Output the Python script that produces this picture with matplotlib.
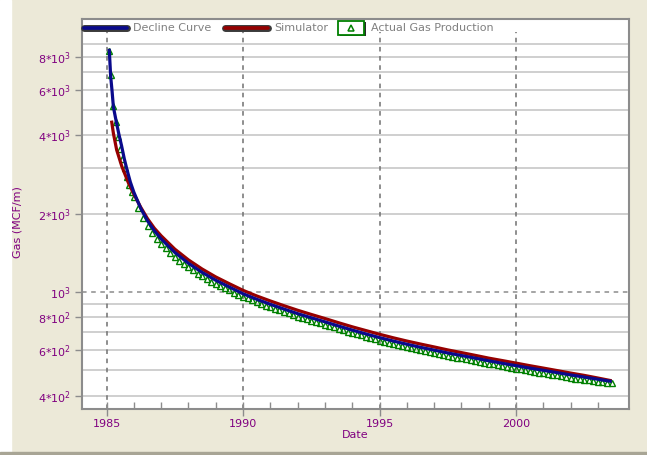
import numpy as np
import matplotlib.pyplot as plt
from matplotlib.patches import Rectangle

# decline curve fit (MCF/month)
decline_dates = [1985.10, 1985.15, 1985.20, 1985.25, 1985.35, 1985.45, 1985.55, 1985.65,
                 1985.75, 1985.87, 1986.00, 1986.25, 1986.50, 1986.75, 1987.00, 1987.50,
                 1988.00, 1988.50, 1989.00, 1989.50, 1990.00, 1990.50, 1991.00, 1991.50,
                 1992.00, 1992.50, 1993.00, 1993.50, 1994.00, 1994.50, 1995.00, 1995.50,
                 1996.00, 1996.50, 1997.00, 1997.50, 1998.00, 1998.50, 1999.00, 1999.50,
                 2000.00, 2000.50, 2001.00, 2001.50, 2002.00, 2002.50, 2003.00, 2003.45]
decline_gas = [8500, 6750, 5950, 5150, 4550, 4050, 3650, 3250,
               2950, 2650, 2420, 2100, 1880, 1720, 1600, 1420,
               1290, 1190, 1110, 1045, 985, 938, 897, 860,
               826, 796, 768, 740, 714, 690, 668, 648,
               630, 613, 598, 583, 570, 557, 544, 532,
               521, 510, 500, 490, 480, 471, 462, 454]

# reservoir simulator run
sim_dates = [1985.19, 1985.25, 1985.37, 1985.56, 1985.80, 1986.00, 1986.25, 1986.50,
             1986.75, 1987.00, 1987.50, 1988.00, 1988.50, 1989.00, 1989.50, 1990.00,
             1990.50, 1991.00, 1991.50, 1992.00, 1992.50, 1993.00, 1993.50, 1994.00,
             1994.50, 1995.00, 1995.50, 1996.00, 1996.50, 1997.00, 1997.50, 1998.00,
             1998.50, 1999.00, 1999.50, 2000.00, 2000.50, 2001.00, 2001.50, 2002.00,
             2002.50, 2003.00, 2003.45]
sim_gas = [4500, 4080, 3520, 3040, 2630, 2380, 2120, 1915,
           1760, 1645, 1462, 1329, 1226, 1143, 1076, 1015,
           966, 924, 886, 851, 820, 791, 762, 735,
           711, 688, 667, 648, 631, 615, 599, 585,
           571, 557, 545, 533, 521, 510, 499, 488,
           478, 467, 457]

# measured production: monthly during 1985, every second month afterwards
actual_gas_1985 = [8450, 6850, 5200, 4500, 3950, 3550, 3250, 3000, 2780, 2590, 2430]
actual_gas_later = [
    2310, 2100, 1930, 1795, 1690, 1605,
    1536, 1474, 1416, 1363, 1320, 1277,
    1245, 1211, 1177, 1148, 1121, 1095,
    1077, 1055, 1034, 1014, 994, 975,
    960, 945, 929, 915, 901, 887,
    875, 862, 850, 839, 827, 816,
    805, 796, 786, 776, 767, 758,
    749, 740, 731, 722, 713, 704,
    696, 688, 681, 673, 666, 658,
    651, 645, 639, 632, 626, 620,
    614, 608, 604, 598, 593, 588,
    583, 578, 573, 568, 565, 560,
    556, 552, 547, 543, 539, 534,
    530, 527, 523, 519, 515, 512,
    508, 504, 501, 497, 494, 490,
    488, 485, 481, 478, 475, 471,
    468, 465, 462, 459, 457, 454,
    451, 449, 447, 445,
]
actual_dates = np.concatenate([1985 + np.arange(1, 12) / 12,
                               1986 + np.arange(len(actual_gas_later)) / 6])
actual_gas = actual_gas_1985 + actual_gas_later

year_ticks = [1985, 1990, 1995, 2000]
gas_ticks = [400, 600, 800, 1000, 2000, 4000, 6000, 8000]
gas_labels = ['4*10$^2$', '6*10$^2$', '8*10$^2$', '10$^3$',
              '2*10$^3$', '4*10$^3$', '6*10$^3$', '8*10$^3$']
grid_levels = [400, 500, 600, 700, 800, 900, 2000, 3000, 4000, 5000, 6000, 7000, 8000, 9000]

PURPLE = '#800080'
NAVY = '#0a0a8c'
DARKRED = '#960000'
GREEN = '#008000'
GREY = '#8c8c8c'

fig = plt.figure(figsize=(6.47, 4.55), dpi=100, facecolor='#ece9d8')
fig.patches.append(Rectangle((0, 0), 11 / 647, 1, transform=fig.transFigure,
                             color='white', zorder=-1))
fig.patches.append(Rectangle((0, 0), 1, 3 / 455, transform=fig.transFigure,
                             color='#a8a595', zorder=-1))

ax = fig.add_axes([82 / 647, 46 / 455, 547 / 647, 390 / 455])
ax.set_yscale('log')
ax.set_xlim(1984.10, 2004.14)
ax.set_ylim(355, 11220)

# grid
for g in grid_levels:
    ax.axhline(g, color='#cccccc', lw=1.3, zorder=1)
ax.axhline(1000, color='#8c8c8c', lw=1.1, ls=(0, (3, 3)), zorder=1)
ax.vlines(year_ticks, 355, 10000, colors='#707070', lw=1.1,
          linestyles=[(0, (3, 3))], zorder=1)

# data
ax.plot(actual_dates, actual_gas, ls='none', marker='^', ms=4.2,
        mfc='none', mec=GREEN, mew=1.0, zorder=2)
ax.plot(sim_dates, sim_gas, color=DARKRED, lw=2.3, zorder=3)
ax.plot(decline_dates, decline_gas, color=NAVY, lw=2.3, zorder=4)

# axes styling
for s in ax.spines.values():
    s.set_color(GREY)
    s.set_linewidth(1.5)

ax.set_yticks(gas_ticks)
ax.set_yticklabels(gas_labels)
ax.yaxis.set_minor_locator(plt.NullLocator())
ax.tick_params(axis='y', which='major', direction='out', length=5, width=1,
               color=GREY, labelcolor=PURPLE, labelsize=8, pad=3)

ax.set_xticks(year_ticks)
ax.set_xticklabels([str(y) for y in year_ticks])
ax.set_xticks([y for y in range(1986, 2004) if y not in year_ticks], minor=True)
ax.tick_params(axis='x', which='major', direction='inout', length=10, width=1,
               color=GREY, labelcolor=PURPLE, labelsize=8, pad=2)
ax.tick_params(axis='x', which='minor', direction='in', length=5, width=1, color=GREY)

ax.set_xlabel('Date', color=PURPLE, fontsize=8, labelpad=1)
ax.set_ylabel('Gas (MCF/m)', color=PURPLE, fontsize=8)
ax.yaxis.set_label_coords(-0.108, 0.48)

# legend strip along the top of the frame
ly = 0.978
for x0, x1, c in [(0.004, 0.082, NAVY), (0.261, 0.340, DARKRED)]:
    ax.plot([x0, x1], [ly, ly], transform=ax.transAxes, color='#3a3a3a', lw=5,
            solid_capstyle='round', clip_on=False, zorder=6)
    ax.plot([x0, x1], [ly, ly], transform=ax.transAxes, color=c, lw=2.6,
            solid_capstyle='round', clip_on=False, zorder=7)
ax.add_patch(Rectangle((0.471, 0.956), 0.048, 0.037, transform=ax.transAxes,
                       facecolor='#2a2a2a', edgecolor='none', zorder=6, clip_on=False))
ax.add_patch(Rectangle((0.468, 0.960), 0.048, 0.036, transform=ax.transAxes,
                       facecolor='white', edgecolor=GREEN, lw=1.3, zorder=7, clip_on=False))
ax.plot([0.492], [0.977], transform=ax.transAxes, marker='^', ms=5, mfc='none',
        mec=GREEN, mew=1.1, zorder=8, clip_on=False)
for x, label in [(0.093, 'Decline Curve'), (0.351, 'Simulator'),
                 (0.528, 'Actual Gas Production')]:
    ax.text(x, ly, label, transform=ax.transAxes, color='#808080', fontsize=8,
            va='center', ha='left', zorder=8)

fig.savefig('out.png', dpi=100, facecolor=fig.get_facecolor())
